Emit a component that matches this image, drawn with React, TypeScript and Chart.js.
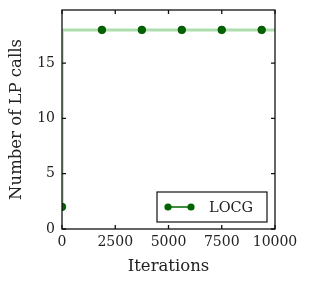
import React, { useEffect, useRef } from "react";
import { Chart, registerables } from "chart.js";

Chart.register(...registerables);

const lineIterations = [0, 10, 10000];
const lineValues = [2, 18, 18];
const markerIterations = [0, 1875, 3750, 5625, 7500, 9375];
const markerValues = [2, 18, 18, 18, 18, 18];
const xTickValues = [0, 2500, 5000, 7500, 10000];
const yTickValues = [0, 5, 10, 15];
const seriesLabel = "LOCG";
const xTitle = "Iterations";
const yTitle = "Number of LP calls";

const FONT = "'DejaVu Serif', serif";
const DARK = "#006400";
const LIGHT = "rgba(120, 200, 120, 0.6)";

const framePlugin = {
  id: "frame",
  afterDatasetsDraw(chart: any) {
    const { ctx, chartArea, scales } = chart;
    const { left, right, top, bottom } = chartArea;
    ctx.save();
    ctx.strokeStyle = "#111";
    ctx.lineWidth = 1.3;
    ctx.strokeRect(left, top, right - left, bottom - top);
    const tl = 4;
    ctx.beginPath();
    xTickValues.forEach((v) => {
      const x = scales.x.getPixelForValue(v);
      ctx.moveTo(x, bottom);
      ctx.lineTo(x, bottom - tl);
      ctx.moveTo(x, top);
      ctx.lineTo(x, top + tl);
    });
    yTickValues.forEach((v) => {
      const y = scales.y.getPixelForValue(v);
      ctx.moveTo(left, y);
      ctx.lineTo(left + tl, y);
      ctx.moveTo(right, y);
      ctx.lineTo(right - tl, y);
    });
    ctx.stroke();

    // legend box
    const bw = 110;
    const bh = 30;
    const bx = right - 8 - bw;
    const by = bottom - 7 - bh;
    ctx.fillStyle = "#fff";
    ctx.fillRect(bx, by, bw, bh);
    ctx.strokeStyle = "#111";
    ctx.lineWidth = 1.2;
    ctx.strokeRect(bx, by, bw, bh);
    const ly = by + bh / 2;
    const lx1 = bx + 11;
    const lx2 = bx + 34;
    ctx.strokeStyle = DARK;
    ctx.lineWidth = 1.5;
    ctx.beginPath();
    ctx.moveTo(lx1, ly);
    ctx.lineTo(lx2, ly);
    ctx.stroke();
    ctx.fillStyle = DARK;
    [lx1, lx2].forEach((x) => {
      ctx.beginPath();
      ctx.arc(x, ly, 3.6, 0, Math.PI * 2);
      ctx.fill();
    });
    ctx.fillStyle = "#222";
    ctx.font = `14.5px ${FONT}`;
    ctx.textBaseline = "middle";
    ctx.textAlign = "left";
    ctx.fillText(seriesLabel, bx + 52, ly + 1);
    ctx.restore();
  },
};

export default function App() {
  const ref = useRef<HTMLCanvasElement>(null);
  useEffect(() => {
    const canvas = ref.current!;
    const chart = new Chart(canvas, {
      type: "scatter",
      data: {
        datasets: [
          {
            label: seriesLabel,
            data: markerIterations.map((x, i) => ({ x, y: markerValues[i] })),
            showLine: false,
            pointRadius: 3.8,
            pointBackgroundColor: DARK,
            pointBorderColor: "#004a00",
            pointBorderWidth: 0.8,
            clip: 0,
            order: 0,
          },
          {
            label: "line",
            data: lineIterations.map((x, i) => ({ x, y: lineValues[i] })),
            showLine: true,
            borderColor: LIGHT,
            borderWidth: 3,
            pointRadius: 0,
            clip: 0,
            order: 1,
          },
        ],
      },
      options: {
        responsive: false,
        animation: false,
        layout: { padding: { top: 10, right: 37, left: 0, bottom: 0 } },
        plugins: { legend: { display: false }, tooltip: { enabled: false } },
        scales: {
          x: {
            type: "linear",
            min: 0,
            max: 10000,
            grid: { display: false, drawTicks: false },
            border: { display: false },
            afterFit: (s: any) => {
              s.height = 62;
              s.paddingLeft = 0;
              s.paddingRight = 0;
            },
            afterBuildTicks: (s: any) => {
              s.ticks = xTickValues.map((value) => ({ value }));
            },
            ticks: {
              padding: 5,
              color: "#222",
              font: { family: FONT, size: 14 },
              maxRotation: 0,
              autoSkip: false,
              callback: (v: any) => String(v),
            },
            title: {
              display: true,
              text: xTitle,
              color: "#222",
              font: { family: FONT, size: 16.5 },
              padding: { top: 0, bottom: 14 },
            },
          },
          y: {
            type: "linear",
            min: 0,
            max: 19.8,
            grid: { display: false, drawTicks: false },
            border: { display: false },
            afterFit: (s: any) => {
              s.width = 62;
              s.paddingTop = 0;
              s.paddingBottom = 0;
            },
            afterBuildTicks: (s: any) => {
              s.ticks = yTickValues.map((value) => ({ value }));
            },
            ticks: {
              padding: 7,
              color: "#222",
              font: { family: FONT, size: 14 },
              callback: (v: any) => String(v),
            },
            title: {
              display: true,
              text: yTitle,
              color: "#222",
              font: { family: FONT, size: 16.5 },
              padding: { top: 7, bottom: 0 },
            },
          },
        },
      },
      plugins: [framePlugin],
    });
    return () => chart.destroy();
  }, []);
  return (
    <div style={{ position: "absolute", left: 0, top: 0, width: 312, height: 291, background: "#fff" }}>
      <canvas ref={ref} width={312} height={291} style={{ display: "block" }} />
    </div>
  );
}
